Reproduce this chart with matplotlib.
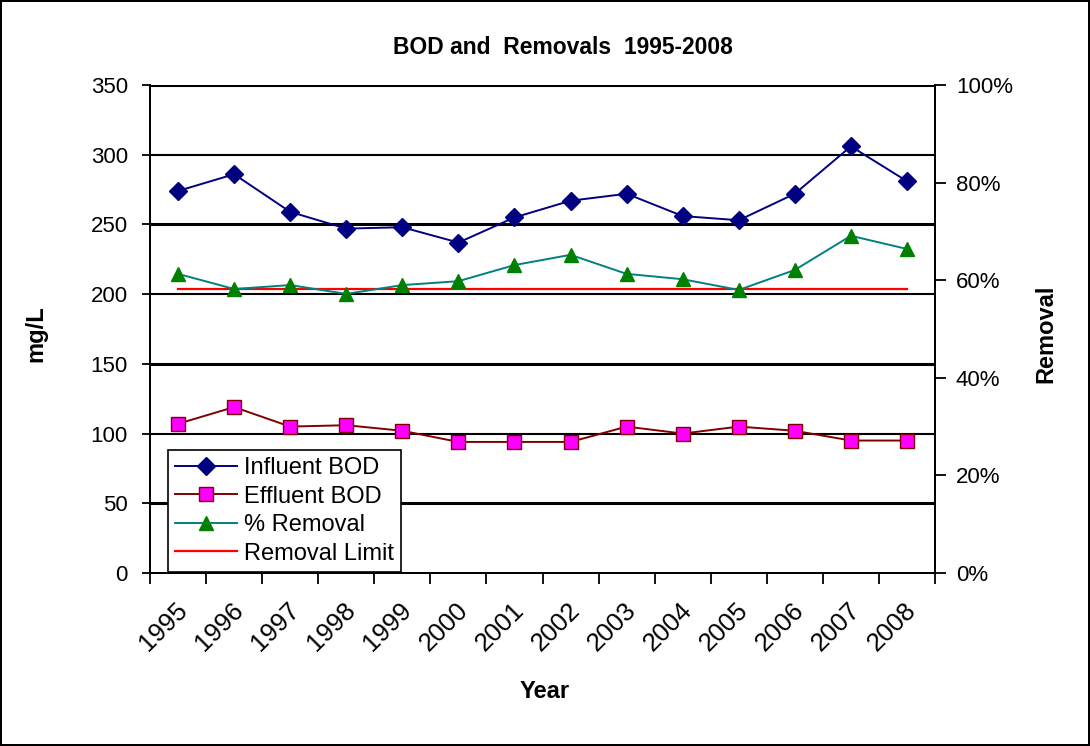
import matplotlib.pyplot as plt
import numpy as np
from matplotlib.ticker import FixedLocator, PercentFormatter

plt.rcParams['font.family'] = ['Liberation Sans', 'DejaVu Sans']

years = ['1995', '1996', '1997', '1998', '1999', '2000', '2001',
         '2002', '2003', '2004', '2005', '2006', '2007', '2008']
influent = [274, 286, 259, 247, 248, 237, 255, 267, 272, 256, 253, 272, 306, 281]
effluent = [107, 119, 105, 106, 102, 94, 94, 94, 105, 100, 105, 102, 95, 95]
removal = [61.3, 58.2, 59.0, 57.2, 59.0, 59.8, 63.1, 65.2, 61.3, 60.2, 58.0, 62.1, 69.1, 66.4]
removal_limit = [58.2] * len(years)

fig = plt.figure(figsize=(10.9, 7.46), dpi=100)
fig.patch.set_edgecolor('black')
fig.patch.set_linewidth(1.5)

ax = fig.add_axes([150 / 1090, 1 - 573 / 746, 785 / 1090, 488 / 746])
ax2 = ax.twinx()

x = np.arange(len(years))

# grid lines (mg/L)
for i, g in enumerate([50, 100, 150, 200, 250, 300, 350]):
    ax.axhline(g, color='black', lw=2.2 if i % 2 == 0 else 1.5, zorder=1)

l1, = ax.plot(x, influent, color='#000080', marker='D', markersize=9,
              markerfacecolor='#000080', markeredgecolor='#000080', lw=1.4, zorder=3)
l2, = ax.plot(x, effluent, color='#800000', marker='s', markersize=10,
              markerfacecolor='#ff00ff', markeredgecolor='#800000', markeredgewidth=1, lw=1.4, zorder=3)
l3, = ax2.plot(x, removal, color='#008080', marker='^', markersize=10.5,
               markerfacecolor='#008000', markeredgecolor='#008000', lw=1.4, zorder=3)
l4, = ax2.plot(x, removal_limit, color='#ff0000', lw=1.6, zorder=2)

ax.set_xlim(-0.5, len(years) - 0.5)
ax.set_ylim(0, 350)
ax2.set_ylim(0, 100)

ax.set_yticks(range(0, 351, 50))
ax2.set_yticks(range(0, 101, 20))
ax2.yaxis.set_major_formatter(PercentFormatter(decimals=0))

ax.set_xticks(x - 0.05)
ax.set_xticklabels(years, rotation=45, ha='right', rotation_mode='anchor', fontsize=18.5)
ax.tick_params(axis='x', which='major', length=0, pad=18)
ax.xaxis.set_minor_locator(FixedLocator(np.arange(-0.5, len(years), 1)))
ax.tick_params(axis='x', which='minor', length=8, width=1.3, direction='out')
ax.tick_params(axis='y', length=6, width=1.3, direction='out', labelsize=16, pad=10)
ax2.tick_params(axis='y', length=8, width=1.3, direction='out', labelsize=16, pad=7)

for a in (ax, ax2):
    for s in a.spines.values():
        s.set_linewidth(1.3)
ax2.spines['top'].set_visible(False)
ax.spines['top'].set_visible(False)

ax.set_xlabel('Year', fontsize=17, fontweight='bold')
ax.xaxis.set_label_coords(0.503, -0.22)
ax.set_ylabel('mg/L', fontsize=17, fontweight='bold')
ax.yaxis.set_label_coords(-0.131, 0.49)
ax2.set_ylabel('Removal', fontsize=17, fontweight='bold')
ax2.yaxis.set_label_coords(1.127, 0.49)
fig.text(563 / 1090, 1 - 48 / 746, 'BOD and  Removals  1995-2008', ha='center', va='center',
         fontsize=16.5, fontweight='bold')

ax.set_zorder(ax2.get_zorder() - 1)
ax2.patch.set_visible(False)

leg = ax2.legend([l1, l2, l3, l4], ['Influent BOD', 'Effluent BOD', '% Removal', 'Removal Limit'],
                 loc='lower left', bbox_to_anchor=(0.0217, 0.0), fontsize=17, frameon=True,
                 fancybox=False, edgecolor='black', framealpha=1, borderpad=0.3,
                 labelspacing=0.28, handlelength=2.6, handletextpad=0.3, borderaxespad=0.05)
leg.get_frame().set_linewidth(1.2)

fig.savefig('out.png', dpi=100)
